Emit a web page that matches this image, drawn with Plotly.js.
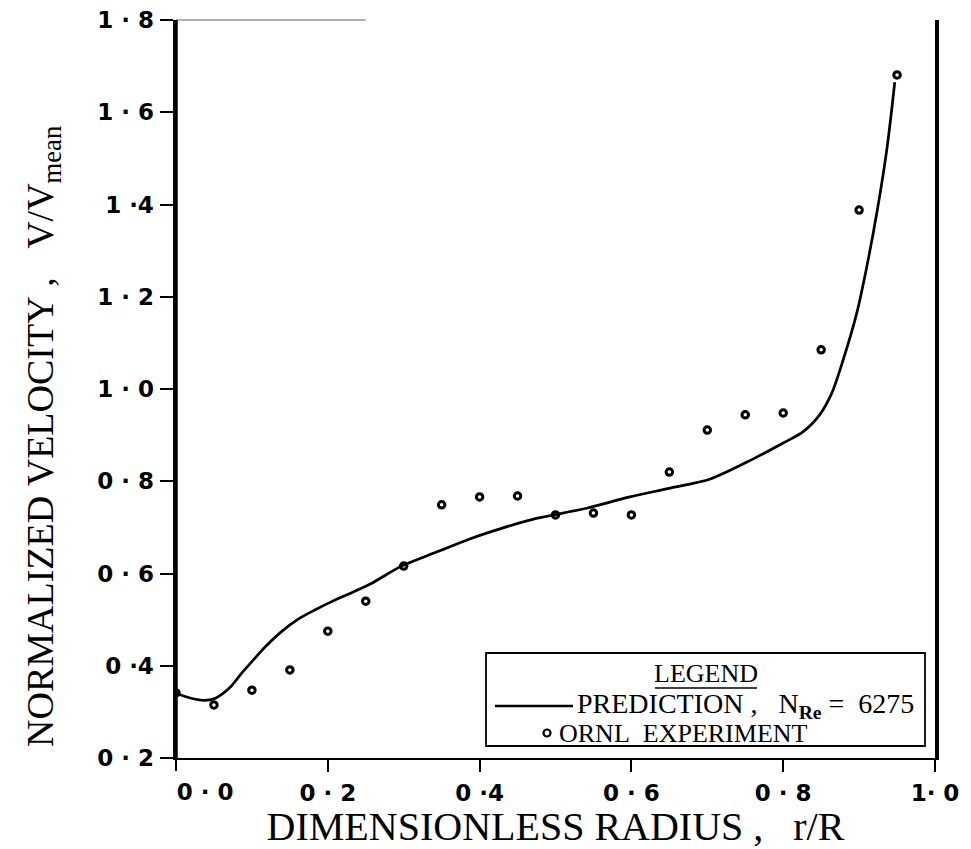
<!DOCTYPE html>
<html>
<head>
<meta charset="utf-8">
<script src="https://cdn.plot.ly/plotly-3.0.1.min.js"></script>
<style>html,body{margin:0;padding:0;background:#fff;}#chart{width:971px;height:849px;}</style>
</head>
<body>
<div id="chart"></div>
<script>
// Experimental points (ORNL experiment)
const expR = [0.00, 0.05, 0.10, 0.15, 0.20, 0.25, 0.30, 0.35, 0.40, 0.45, 0.50, 0.55, 0.60, 0.65, 0.70, 0.75, 0.80, 0.85, 0.90, 0.95];
const expV = [0.341, 0.315, 0.347, 0.391, 0.475, 0.540, 0.616, 0.749, 0.766, 0.768, 0.727, 0.731, 0.727, 0.820, 0.911, 0.944, 0.948, 1.085, 1.388, 1.681];

// Prediction curve, N_Re = 6275
const predR = [0.000, 0.021, 0.038, 0.051, 0.062, 0.073, 0.086, 0.100, 0.117, 0.139, 0.161, 0.183, 0.205, 0.232, 0.258, 0.297, 0.344, 0.387, 0.431, 0.476, 0.498, 0.542, 0.598, 0.651, 0.704, 0.760, 0.800, 0.826, 0.848, 0.864, 0.879, 0.897, 0.910, 0.924, 0.937, 0.947];
const predV = [0.340, 0.329, 0.325, 0.329, 0.340, 0.356, 0.383, 0.409, 0.440, 0.474, 0.501, 0.521, 0.539, 0.559, 0.579, 0.616, 0.647, 0.675, 0.699, 0.720, 0.727, 0.742, 0.766, 0.785, 0.805, 0.848, 0.883, 0.907, 0.944, 0.991, 1.063, 1.165, 1.264, 1.388, 1.525, 1.665];

// Tick labels
const nb = '\u00a0';
const xTickVals = [0.2, 0.4, 0.6, 0.8, 1.0];
const xTickText = ['0'+nb+'·'+nb+'2', '0'+nb+'·4', '0'+nb+'·'+nb+'6', '0'+nb+'·'+nb+'8', '1·'+nb+'0'];
const xZeroVal = [0.0];
const xZeroText = ['0'+nb+'·'+nb+'0'];
const yTickVals = [0.2, 0.4, 0.6, 0.8, 1.0, 1.2, 1.4, 1.6, 1.8];
const yTickText = ['0'+nb+'·'+nb+'2', '0'+nb+'·4', '0'+nb+'·'+nb+'6', '0'+nb+'·'+nb+'8', '1'+nb+'·'+nb+'0', '1'+nb+'·'+nb+'2', '1'+nb+'·4', '1'+nb+'·'+nb+'6', '1'+nb+'·'+nb+'8'];

const serif = 'Liberation Serif, Times New Roman, serif';
const sans = 'DejaVu Sans, Verdana, sans-serif';
const tickFont = {family: sans, size: 23, color: '#000', weight: 'bold'};

const traces = [
  {
    x: predR, y: predV, type: 'scatter', mode: 'lines',
    name: 'PREDICTION , N_Re = 6275',
    line: {color: '#000', width: 2.7, shape: 'spline', smoothing: 0.8},
    showlegend: false, hoverinfo: 'skip'
  },
  {
    x: expR, y: expV, type: 'scatter', mode: 'markers',
    name: 'ORNL EXPERIMENT',
    marker: {symbol: 'circle-open', size: 6.5, color: '#000', line: {width: 3, color: '#000'}},
    showlegend: false, hoverinfo: 'skip'
  },
  {
    // carrier for the shifted "0·0" tick label axis (no marks)
    x: [], y: [], type: 'scatter', mode: 'markers', xaxis: 'x2', yaxis: 'y',
    showlegend: false, hoverinfo: 'skip'
  }
];

function px2x(p){ return (p - 176) / 759; }
function py2y(p){ return (758 - p) / 738; }

const layout = {
  width: 971, height: 849,
  margin: {l: 176, r: 36, t: 20, b: 91},
  paper_bgcolor: '#fff', plot_bgcolor: '#fff',
  showlegend: false,
  xaxis: {
    range: [0, 1.0], tickmode: 'array', tickvals: xTickVals, ticktext: xTickText,
    ticks: 'outside', ticklen: 12, tickwidth: 2, tickcolor: '#000',
    showline: true, linecolor: '#000', linewidth: 2, mirror: false,
    showgrid: false, zeroline: false,
    tickfont: tickFont, ticklabelstandoff: 1,
    title: {text: 'DIMENSIONLESS' + nb + 'RADIUS' + nb + ',' + nb + nb + nb + 'r/R', font: {family: serif, size: 40, color: '#000'}, standoff: 5}
  },
  xaxis2: {
    overlaying: 'x', anchor: 'y', side: 'bottom',
    range: [0, 1.0], tickmode: 'array', tickvals: xZeroVal, ticktext: xZeroText,
    ticks: 'outside', ticklen: 12, tickwidth: 2, tickcolor: '#000',
    showline: false, showgrid: false, zeroline: false,
    tickfont: tickFont, ticklabelstandoff: 1, ticklabelshift: 29
  },
  yaxis: {
    range: [0.2, 1.8], tickmode: 'array', tickvals: yTickVals, ticktext: yTickText,
    ticks: 'outside', ticklen: 13, tickwidth: 2, tickcolor: '#000',
    showline: true, linecolor: '#000', linewidth: 3.5, mirror: true,
    showgrid: false, zeroline: false,
    tickfont: tickFont,
    ticklabelstandoff: 1
  },
  annotations: [
    {xref: 'paper', yref: 'paper', x: 0, y: 0.5, xanchor: 'center', yanchor: 'middle', xshift: -133, yshift: -48,
     textangle: -90, showarrow: false,
     text: 'NORMALIZED' + nb + 'VELOCITY' + nb + ',' + nb + nb + nb + 'V/V<sub>mean</sub>',
     font: {family: serif, size: 38, color: '#000'}},
    {xref: 'paper', yref: 'paper', x: px2x(706), y: py2y(673), xanchor: 'center', yanchor: 'middle', showarrow: false,
     text: 'LEGEND', font: {family: serif, size: 26, color: '#000'}},
    {xref: 'paper', yref: 'paper', x: px2x(575), y: py2y(705), xanchor: 'left', yanchor: 'middle', showarrow: false,
     text: 'PREDICTION' + nb + ',' + nb + nb + nb + 'N<sub><b>Re</b></sub>' + nb + '=' + nb + nb + '6275', font: {family: serif, size: 28, color: '#000'}},
    {xref: 'paper', yref: 'paper', x: px2x(557), y: py2y(733), xanchor: 'left', yanchor: 'middle', showarrow: false,
     text: 'ORNL' + nb + nb + 'EXPERIMENT', font: {family: serif, size: 26, color: '#000'}}
  ],
  shapes: [
    {type: 'line', xref: 'paper', yref: 'paper', x0: 0, x1: 0.25, y0: 1, y1: 1, line: {color: '#999', width: 1.5}},
    {type: 'line', xref: 'paper', yref: 'paper', x0: 0, x1: 0, y0: 0, y1: 1, line: {color: '#000', width: 3.5}},
    {type: 'rect', xref: 'paper', yref: 'paper', x0: px2x(486), x1: px2x(925), y0: py2y(746), y1: py2y(653),
     line: {color: '#000', width: 1.8}, fillcolor: 'rgba(0,0,0,0)'},
    {type: 'line', xref: 'paper', yref: 'paper', x0: px2x(655), x1: px2x(757), y0: py2y(688), y1: py2y(688), line: {color: '#000', width: 1.5}},
    {type: 'line', xref: 'paper', yref: 'paper', x0: px2x(495), x1: px2x(573), y0: py2y(706), y1: py2y(706), line: {color: '#000', width: 2.6}},
    {type: 'circle', xref: 'paper', yref: 'paper', xsizemode: 'pixel', ysizemode: 'pixel',
     xanchor: px2x(547), yanchor: py2y(733), x0: -3.5, x1: 3.5, y0: -3.5, y1: 3.5, line: {color: '#000', width: 2.2}}
  ]
};

Plotly.newPlot('chart', traces, layout, {staticPlot: true, displayModeBar: false});
</script>
</body>
</html>
